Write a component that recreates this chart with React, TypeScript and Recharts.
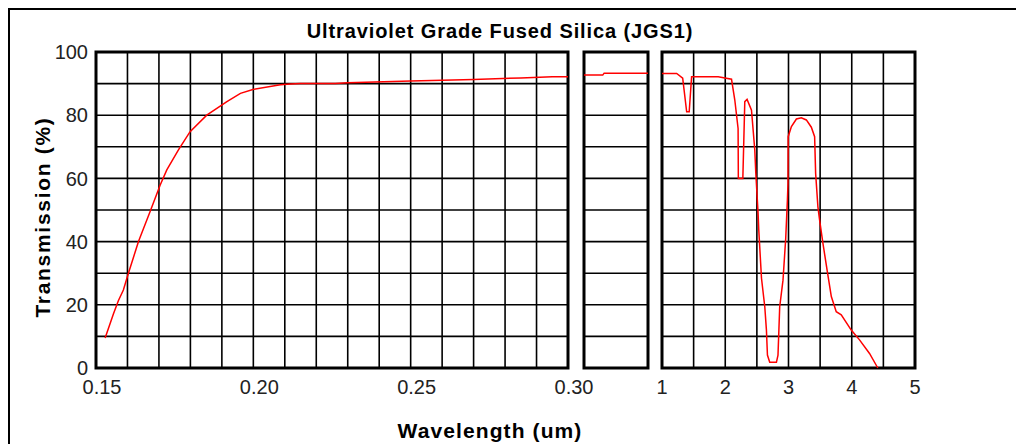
import { CartesianGrid, Line, LineChart, ReferenceArea, XAxis, YAxis } from "recharts";

// deep-UV edge, 0.15 – 0.30 um
const UV_CURVE = [
  { um: 0.1529, t: 9.5 },
  { um: 0.1555, t: 17 },
  { um: 0.1571, t: 21.3 },
  { um: 0.1587, t: 24.7 },
  { um: 0.1603, t: 30.0 },
  { um: 0.1635, t: 40.0 },
  { um: 0.1672, t: 49.5 },
  { um: 0.1704, t: 57.9 },
  { um: 0.1725, t: 62.7 },
  { um: 0.1762, t: 69.0 },
  { um: 0.1799, t: 74.8 },
  { um: 0.1852, t: 80.0 },
  { um: 0.1916, t: 84.3 },
  { um: 0.1959, t: 86.9 },
  { um: 0.2001, t: 88.2 },
  { um: 0.2086, t: 89.6 },
  { um: 0.2118, t: 89.9 },
  { um: 0.215, t: 90.0 },
  { um: 0.226, t: 90.0 },
  { um: 0.23, t: 90.3 },
  { um: 0.25, t: 90.8 },
  { um: 0.27, t: 91.3 },
  { um: 0.285, t: 91.8 },
  { um: 0.295, t: 92.2 },
  { um: 0.3, t: 92.2 },
];

// visible band, 0.3 – 1.0 um
const VIS_CURVE = [
  { um: 0.3, t: 92.7 },
  { um: 0.505, t: 92.7 },
  { um: 0.52, t: 93.3 },
  { um: 1.0, t: 93.3 },
];

// near / mid IR, 1 – 5 um
const IR_CURVE = [
  { um: 1.0, t: 93.2 },
  { um: 1.232, t: 93.2 },
  { um: 1.327, t: 91.7 },
  { um: 1.39, t: 81.1 },
  { um: 1.43, t: 81.1 },
  { um: 1.468, t: 92.2 },
  { um: 1.888, t: 92.2 },
  { um: 2.099, t: 91.4 },
  { um: 2.151, t: 84.8 },
  { um: 2.203, t: 75.8 },
  { um: 2.207, t: 60.0 },
  { um: 2.278, t: 60.0 },
  { um: 2.309, t: 84.3 },
  { um: 2.345, t: 85.0 },
  { um: 2.415, t: 81.6 },
  { um: 2.467, t: 69.0 },
  { um: 2.483, t: 61.7 },
  { um: 2.519, t: 49.0 },
  { um: 2.53, t: 43.7 },
  { um: 2.573, t: 28.4 },
  { um: 2.625, t: 19.4 },
  { um: 2.651, t: 12.0 },
  { um: 2.667, t: 4.1 },
  { um: 2.703, t: 1.8 },
  { um: 2.809, t: 1.8 },
  { um: 2.834, t: 4.1 },
  { um: 2.861, t: 19.4 },
  { um: 2.913, t: 27.8 },
  { um: 2.956, t: 41.0 },
  { um: 2.983, t: 53.2 },
  { um: 2.992, t: 58.4 },
  { um: 2.995, t: 73.2 },
  { um: 3.046, t: 76.4 },
  { um: 3.125, t: 78.8 },
  { um: 3.203, t: 79.2 },
  { um: 3.282, t: 78.5 },
  { um: 3.361, t: 76.2 },
  { um: 3.413, t: 73.2 },
  { um: 3.429, t: 61.6 },
  { um: 3.465, t: 51.0 },
  { um: 3.492, t: 46.8 },
  { um: 3.544, t: 39.5 },
  { um: 3.614, t: 30.5 },
  { um: 3.677, t: 22.6 },
  { um: 3.755, t: 17.8 },
  { um: 3.834, t: 16.8 },
  { um: 3.992, t: 12.0 },
  { um: 4.123, t: 8.9 },
  { um: 4.281, t: 4.6 },
  { um: 4.412, t: 0 },
];

const Y_TICKS = [0, 10, 20, 30, 40, 50, 60, 70, 80, 90, 100];
const Y_LABELS = [0, 20, 40, 60, 80, 100];

const UV_TICKS = [0.15, 0.16, 0.17, 0.18, 0.19, 0.2, 0.21, 0.22, 0.23, 0.24, 0.25, 0.26, 0.27, 0.28, 0.29, 0.3];
const UV_LABELS = [0.15, 0.2, 0.25, 0.3];
const VIS_TICKS = [0.3, 0.65, 1.0];
const IR_TICKS = [1, 1.5, 2, 2.5, 3, 3.5, 4, 4.5, 5];
const IR_LABELS = [1, 2, 3, 4, 5];

const FONT = '"Liberation Sans", Arial, sans-serif';
const RED = "#ff0000";
const INK = "#000";
const TICK = { fill: "#222", fontSize: 20, fontFamily: FONT };

const near = (list: number[], v: number) => list.some((x) => Math.abs(x - v) < 1e-6);

function Panel({
  left,
  width,
  data,
  domain,
  ticks,
  labels,
  format,
  margin,
  dx = 0,
  showY,
}: {
  left: number;
  width: number;
  data: { um: number; t: number }[];
  domain: [number, number];
  ticks: number[];
  labels: number[];
  format: (v: number) => string;
  margin: { top: number; right: number; bottom: number; left: number };
  dx?: number;
  showY?: boolean;
}) {
  return (
    <div style={{ position: "absolute", left, top: 0 }}>
      <LineChart width={width} height={410} data={data} margin={margin}>
        <XAxis
          dataKey="um"
          type="number"
          domain={domain}
          ticks={ticks}
          allowDataOverflow
          axisLine={false}
          tickLine={false}
          tickMargin={6}
          height={30}
          interval={0}
          tick={labels.length ? { ...TICK, dx } : false}
          tickFormatter={(v: number) => (near(labels, v) ? format(v) : "")}
        />
        <YAxis
          type="number"
          domain={[0, 100]}
          ticks={Y_TICKS}
          hide={!showY}
          width={50}
          axisLine={false}
          tickLine={false}
          interval={0}
          tick={TICK}
          tickFormatter={(v: number) => (Y_LABELS.includes(v) ? String(v) : "")}
        />
        <Line
          type="linear"
          dataKey="t"
          stroke={RED}
          strokeWidth={1.5}
          dot={false}
          isAnimationActive={false}
        />
        <CartesianGrid stroke={INK} strokeWidth={1.6} />
        <ReferenceArea
          x1={domain[0]}
          x2={domain[1]}
          y1={0}
          y2={100}
          fill="none"
          fillOpacity={0}
          stroke={INK}
          strokeWidth={3}
        />
      </LineChart>
    </div>
  );
}

export default function App() {
  return (
    <div
      style={{
        position: "absolute",
        left: 0,
        top: 0,
        width: 1016,
        height: 444,
        overflow: "hidden",
        background: "#fff",
        fontFamily: FONT,
      }}
    >
      <div
        style={{
          position: "absolute",
          left: 8,
          top: 8,
          width: 1100,
          height: 500,
          borderTop: "2px solid #000",
          borderLeft: "2px solid #000",
        }}
      />
      <Panel
        left={0}
        width={600}
        data={UV_CURVE}
        domain={[0.15, 0.3]}
        ticks={UV_TICKS}
        labels={UV_LABELS}
        format={(v) => v.toFixed(2)}
        margin={{ top: 52, right: 32, bottom: 12, left: 46 }}
        dx={6}
        showY
      />
      <Panel
        left={574}
        width={84}
        data={VIS_CURVE}
        domain={[0.3, 1.0]}
        ticks={VIS_TICKS}
        labels={[]}
        format={(v) => String(v)}
        margin={{ top: 52, right: 10, bottom: 12, left: 10 }}
      />
      <Panel
        left={652}
        width={274}
        data={IR_CURVE}
        domain={[1, 5]}
        ticks={IR_TICKS}
        labels={IR_LABELS}
        format={(v) => String(v)}
        margin={{ top: 52, right: 11, bottom: 12, left: 10 }}
      />
      <svg width={1016} height={444} style={{ position: "absolute", left: 0, top: 0, pointerEvents: "none" }}>
        <text
          x={500}
          y={38}
          textAnchor="middle"
          fontFamily={FONT}
          fontWeight="bold"
          fontSize={20}
          letterSpacing={0.9}
          fill="#000"
        >
          Ultraviolet Grade Fused Silica (JGS1)
        </text>
        <text
          x={490}
          y={438}
          textAnchor="middle"
          fontFamily={FONT}
          fontWeight="bold"
          fontSize={21}
          letterSpacing={1.1}
          fill="#000"
        >
          Wavelength (um)
        </text>
        <text
          x={0}
          y={0}
          transform="translate(50 217) rotate(-90)"
          textAnchor="middle"
          fontFamily={FONT}
          fontWeight="bold"
          fontSize={21}
          letterSpacing={1.7}
          fill="#000"
        >
          Transmission (%)
        </text>
      </svg>
    </div>
  );
}
